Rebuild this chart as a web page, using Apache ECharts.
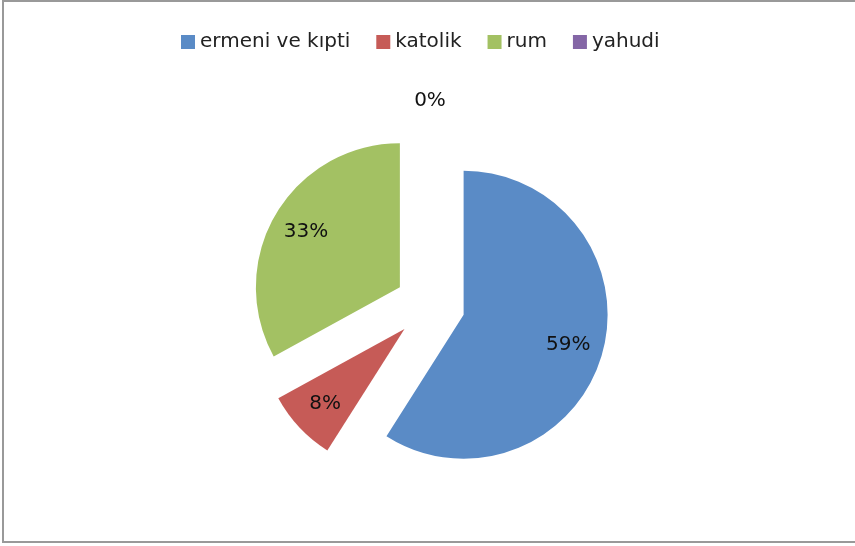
<!DOCTYPE html>
<html>
<head>
<meta charset="utf-8">
<script src="https://cdn.jsdelivr.net/npm/echarts@6/dist/echarts.min.js"></script>
<style>
  html, body { margin: 0; padding: 0; background: #fff; }
  .frame {
    position: absolute; left: 2px; top: 0; width: 853px; height: 543px;
    border-top: 2px solid #999; border-left: 2px solid #999; border-bottom: 2px solid #999;
    box-sizing: border-box;
  }
  #chart { position: absolute; left: 0; top: 0; width: 855px; height: 546px; }
</style>
</head>
<body>
<div class="frame"></div>
<div id="chart"></div>
<script>
// dini gruplar
const categories = ['ermeni ve kıpti', 'katolik', 'rum', 'yahudi']
const values = [59, 8, 33, 0]
const colors = ['#5A8BC6', '#C65B57', '#A3C163', '#8466A6']

const font = 'DejaVu Sans'
const center = [430, 305]

const pieData = categories.map((name, i) => ({
  name: name,
  value: values[i],
  selected: true,
  itemStyle: { color: colors[i] }
}))

// label ring: transparent, only carries the percent labels
const labelData = categories.map((name, i) => {
  const item = { name: name, value: values[i], selected: true }
  if (values[i] === 0) {
    // 0% sits above the pie: empty lines below push it up
    item.label = { formatter: '{d}%\n \n \n \n \n \n ', lineHeight: 20 }
  }
  return item
})

const chart = echarts.init(document.getElementById('chart'))
chart.setOption({
  animation: false,
  color: colors,
  textStyle: { fontFamily: font },
  legend: {
    data: categories,
    left: 176,
    top: 27,
    icon: 'rect',
    itemWidth: 14,
    itemHeight: 14,
    itemGap: 26,
    selectedMode: false,
    textStyle: { fontFamily: font, fontSize: 20, color: '#222' }
  },
  series: [
    {
      name: 'main',
      type: 'pie',
      center: center,
      radius: 144,
      startAngle: 90,
      clockwise: true,
      selectedMode: 'multiple',
      selectedOffset: 35,
      silent: true,
      label: { show: false },
      labelLine: { show: false },
      emphasis: { disabled: true },
      data: pieData
    },
    {
      name: 'labels',
      type: 'pie',
      center: center,
      radius: [72, 140],
      startAngle: 90,
      clockwise: true,
      selectedMode: 'multiple',
      selectedOffset: 35,
      silent: true,
      itemStyle: { color: 'rgba(0,0,0,0)' },
      label: {
        show: true,
        position: 'inside',
        formatter: '{d}%',
        fontFamily: font,
        fontSize: 20,
        color: '#111'
      },
      labelLine: { show: false },
      emphasis: { disabled: true },
      data: labelData
    }
  ]
})
</script>
</body>
</html>
